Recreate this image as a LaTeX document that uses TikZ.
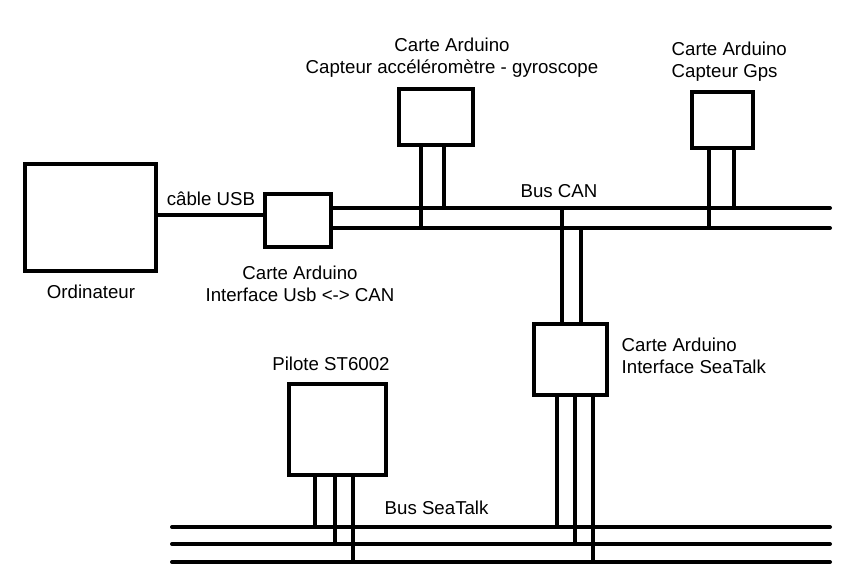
\documentclass[tikz,border=0pt]{standalone}
\usepackage{fontspec}
\setmainfont{Liberation Sans}
\begin{document}
\begin{tikzpicture}[x=0.75pt,y=-0.75pt]
        \tikzstyle{every node}=[font=\fontsize{14pt}{16.5pt}\selectfont]
        \tikzstyle{boite}=[draw,rectangle,line width=3pt,inner sep=0pt]
        \tikzstyle{fil}=[line width=3pt]
        \tikzstyle{bus}=[line width=3pt,line cap=round]
        \useasboundingbox (0,0) rectangle (850,583);

        \node[boite,minimum width=98.25pt,minimum height=80.25pt] (ordi) at (90.5,217.5) {};
        \node (txtordi) at (91,292) {Ordinateur};

        \node[boite,minimum width=49.5pt,minimum height=39.75pt] (usbcan) at (298,220.5) {};
        \node[align=center] (txtusbcan) at (300,283.5) {Carte Arduino\\Interface Usb <-> CAN};

        \node[boite,minimum width=55.5pt,minimum height=42pt] (accel) at (436,117) {};
        \node[align=center] (txtaccel) at (452,57.5) {Carte Arduino\\Capteur accéléromètre - gyroscope};

        \node[boite,minimum width=45.75pt,minimum height=42pt] (gps) at (722.5,120) {};
        \node[align=left,anchor=west] (txtgps) at (667,61.5) {Carte Arduino\\Capteur Gps};

        \node[boite,minimum width=54.75pt,minimum height=53.25pt] (seatalk) at (570.5,359.5) {};
        \node[align=left,anchor=west] (txtseatalk) at (617,356) {Carte Arduino\\Interface SeaTalk};

        \node[boite,minimum width=72.75pt,minimum height=68.25pt] (pilote) at (337.5,429.5) {};
        \node (txtpilote) at (331,364) {Pilote ST6002};

        \coordinate (usb) at (265,215);
        \coordinate (canA) at (830,208);
        \coordinate (canB) at (830,228);
        \coordinate (stA) at (172,527);
        \coordinate (stB) at (172,544);
        \coordinate (stC) at (172,562);

        \draw[fil] (ordi.east |- usb) -- (usbcan.west |- usb);
        \node (txtusb) at (211,199) {câble USB};

        \draw[bus] (usbcan.east |- canA) -- (canA);
        \draw[bus] (usbcan.east |- canB) -- (canB);
        \node (txtcan) at (559,191) {Bus CAN};

        \foreach \b in {stA,stB,stC}
            \draw[bus] (\b) -- (830,0 |- \b);
        \node[anchor=west] (txtst) at (380,508) {Bus SeaTalk};

        \foreach \x/\b in {421/canB,444/canA}
            \draw[fil] (\x,0 |- accel.south) -- (\x,0 |- \b);
        \foreach \x/\b in {709/canB,734/canA}
            \draw[fil] (\x,0 |- gps.south) -- (\x,0 |- \b);
        \foreach \x/\b in {562/canA,581/canB}
            \draw[fil] (\x,0 |- seatalk.north) -- (\x,0 |- \b);
        \foreach \x/\b in {557/stA,575/stB,593/stC}
            \draw[fil] (\x,0 |- seatalk.south) -- (\x,0 |- \b);
        \foreach \x/\b in {315/stA,335/stB,353/stC}
            \draw[fil] (\x,0 |- pilote.south) -- (\x,0 |- \b);
\end{tikzpicture}
\end{document}
